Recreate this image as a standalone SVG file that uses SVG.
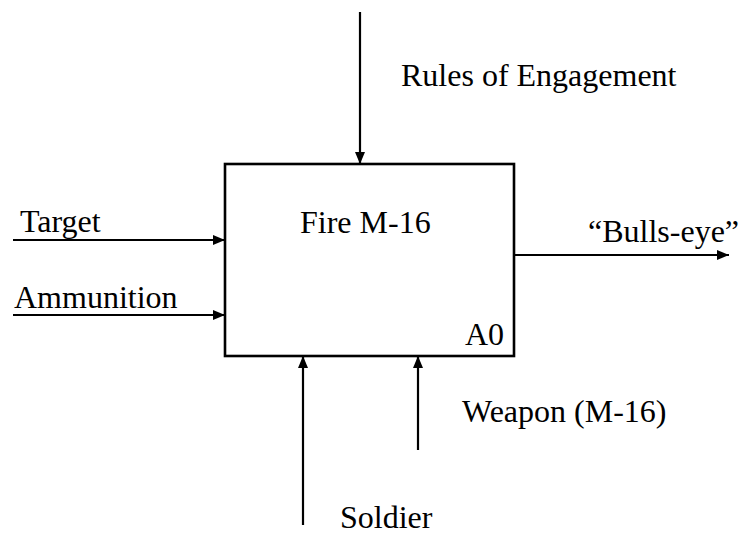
<svg xmlns="http://www.w3.org/2000/svg" width="743" height="536" viewBox="0 0 743 536">
<style>
text{font-family:"Liberation Serif","Times New Roman",serif;font-size:32px;fill:#000}
.ln{stroke:#000;stroke-width:2.2;fill:none}
.box{stroke:#000;stroke-width:2.6;fill:#fff}
</style>
<defs>
<marker id="ah" viewBox="0 0 12 10" refX="12" refY="5" markerWidth="12" markerHeight="10" markerUnits="userSpaceOnUse" orient="auto">
<path d="M0,0 L12,5 L0,10 Z" fill="#000"/>
</marker>
</defs>
<rect width="743" height="536" fill="#fff"/>
<g id="node-A0">
<rect class="box" x="225" y="164" width="289" height="192"/>
<text x="300" y="233">Fire M-16</text>
<text x="465" y="345">A0</text>
</g>
<g id="connectors">
<line class="ln" x1="360" y1="12" x2="360" y2="164" marker-end="url(#ah)"/>
<line class="ln" x1="13" y1="240" x2="225" y2="240" marker-end="url(#ah)"/>
<line class="ln" x1="13" y1="315" x2="225" y2="315" marker-end="url(#ah)"/>
<line class="ln" x1="514" y1="255" x2="729" y2="255" marker-end="url(#ah)"/>
<line class="ln" x1="303" y1="525" x2="303" y2="356" marker-end="url(#ah)"/>
<line class="ln" x1="418" y1="450" x2="418" y2="356" marker-end="url(#ah)"/>
</g>
<g id="labels">
<text x="401" y="86">Rules of Engagement</text>
<text x="20" y="232">Target</text>
<text x="14" y="308">Ammunition</text>
<text x="588" y="242">“Bulls-eye”</text>
<text x="462" y="422">Weapon (M-16)</text>
<text x="340" y="528">Soldier</text>
</g>
</svg>
